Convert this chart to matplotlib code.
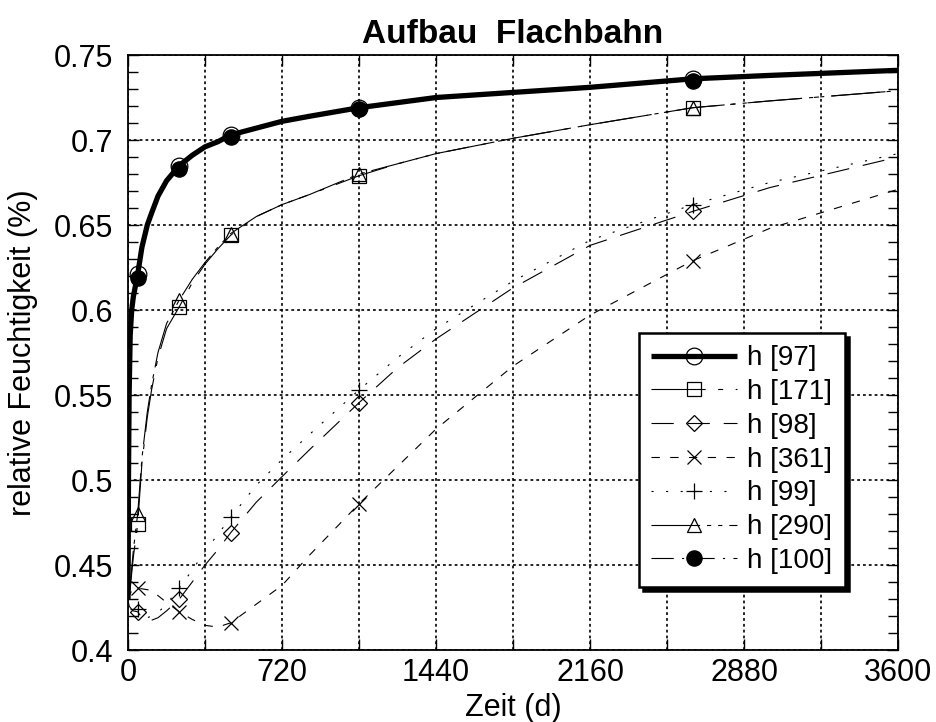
import matplotlib
matplotlib.use('Agg')
import matplotlib.pyplot as plt
from matplotlib.ticker import MultipleLocator, FuncFormatter

plt.rcParams['font.family'] = ['Liberation Sans', 'DejaVu Sans']
plt.rcParams['lines.scale_dashes'] = False

# time grid (days) and relative humidity per series
T = [0, 2, 5, 10, 17, 25, 45, 65, 90, 110, 140, 180, 240, 300, 360, 420, 480,
     600, 720, 850, 1080, 1260, 1440, 1800, 2160, 2640, 3000, 3600]
MARK_T = [45, 240, 480, 1080, 2640]

h97 = [0.430, 0.500, 0.550, 0.585, 0.600, 0.608, 0.621, 0.637, 0.650, 0.657,
       0.667, 0.676, 0.685, 0.691, 0.696, 0.699, 0.703, 0.707, 0.711, 0.714,
       0.719, 0.722, 0.725, 0.728, 0.731, 0.736, 0.738, 0.741]
h100 = [0.430, 0.500, 0.550, 0.585, 0.600, 0.608, 0.619, 0.637, 0.650, 0.657,
        0.667, 0.676, 0.683, 0.691, 0.696, 0.699, 0.702, 0.707, 0.711, 0.714,
        0.718, 0.722, 0.725, 0.728, 0.731, 0.735, 0.738, 0.741]
h171 = [0.430, 0.431, 0.432, 0.436, 0.445, 0.455, 0.474, 0.510, 0.537, 0.553,
        0.572, 0.589, 0.602, 0.616, 0.627, 0.636, 0.644, 0.655, 0.662, 0.668,
        0.679, 0.686, 0.692, 0.701, 0.709, 0.719, 0.723, 0.729]
h290 = [0.430, 0.431, 0.433, 0.438, 0.448, 0.459, 0.480, 0.513, 0.540, 0.556,
        0.575, 0.592, 0.606, 0.618, 0.628, 0.637, 0.645, 0.655, 0.662, 0.668,
        0.680, 0.686, 0.692, 0.701, 0.709, 0.719, 0.723, 0.729]
h98 = [0.430, 0.428, 0.426, 0.425, 0.424, 0.423, 0.4225, 0.419, 0.417, 0.4175,
       0.419, 0.423, 0.430, 0.440, 0.450, 0.459, 0.469, 0.487, 0.502, 0.518,
       0.5455, 0.566, 0.583, 0.613, 0.638, 0.658, 0.672, 0.690]
h99 = [0.430, 0.429, 0.428, 0.427, 0.426, 0.425, 0.424, 0.420, 0.419, 0.420,
       0.422, 0.427, 0.4365, 0.447, 0.458, 0.468, 0.478, 0.497, 0.512, 0.527,
       0.553, 0.572, 0.589, 0.617, 0.641, 0.662, 0.675, 0.692]
h361 = [0.430, 0.431, 0.432, 0.433, 0.435, 0.436, 0.4365, 0.436, 0.4355, 0.435,
        0.432, 0.428, 0.4225, 0.418, 0.4145, 0.4135, 0.416, 0.427, 0.438, 0.456,
        0.486, 0.508, 0.530, 0.567, 0.597, 0.629, 0.648, 0.671]

X_TICKS = [0, 720, 1440, 2160, 2880, 3600]

fig = plt.figure(figsize=(9.36, 7.22), dpi=100)
ax = fig.add_axes([0.1368, 0.0997, 0.8226, 0.8241])

marks = [T.index(t) for t in MARK_T]
thin = 0.8
ms = 10
series = [  # (values, label, lw, dashes, marker, face, size)
    (h97, 'h [97]', 3.8, None, 'o', 'none', 12),
    (h171, 'h [171]', thin, (39, 9, 3.6, 9), 's', 'none', ms),
    (h98, 'h [98]', thin, (16, 10), 'D', 'none', 8),
    (h361, 'h [361]', thin, (6, 7.5), 'x', 'k', ms),
    (h99, 'h [99]', thin, (1.5, 9), '+', 'k', 12),
    (h290, 'h [290]', thin, (35, 5, 3, 5, 3, 5), '^', 'none', ms),
    (h100, 'h [100]', thin, (16, 6, 1.5, 6), 'o', 'k', 11),
]
for vals, label, lw, dashes, mk, face, size in series:
    kw = {} if dashes is None else {'dashes': dashes}
    ax.plot(T, vals, color='k', linewidth=lw, marker=mk, markevery=marks,
            markersize=size, markerfacecolor=face, markeredgecolor='k',
            markeredgewidth=0.9, label=label, solid_capstyle='butt', **kw)

ax.set_xlim(0, 3600)
ax.set_ylim(0.4, 0.75)
ax.xaxis.set_major_locator(MultipleLocator(360))
ax.xaxis.set_major_formatter(FuncFormatter(
    lambda v, p: f'{v:.0f}' if round(v) in X_TICKS else ''))
ax.yaxis.set_major_locator(MultipleLocator(0.05))
ax.yaxis.set_minor_locator(MultipleLocator(0.01))
ax.yaxis.set_major_formatter(FuncFormatter(lambda v, p: f'{v:g}'))
ax.tick_params(which='both', direction='in', top=True, right=True,
               labelsize=22, color='k', width=1.0)
ax.tick_params(axis='y', pad=11)
ax.tick_params(axis='x', pad=6)
ax.tick_params(which='major', length=8)
ax.tick_params(which='minor', length=7)
ax.grid(True, which='major', color='k', linestyle=(0, (2, 2.2)), linewidth=1.2)
for s in ax.spines.values():
    s.set_linewidth(1.3)

ax.set_xlabel('Zeit (d)', fontsize=22, labelpad=3)
ax.set_ylabel('relative Feuchtigkeit (%)', fontsize=22, labelpad=11)
ax.set_title('Aufbau  Flachbahn', fontsize=24, fontweight='bold', pad=9)

leg = ax.legend(loc='upper right', bbox_to_anchor=(0.931, 0.533), fontsize=20,
                numpoints=1, handlelength=3.1, handletextpad=0.36,
                labelspacing=0.28, borderpad=0.45, borderaxespad=0,
                fancybox=False, framealpha=1, edgecolor='k',
                shadow={'ox': 3, 'oy': -3, 'color': 'k', 'alpha': 1})
leg.get_frame().set_linewidth(1.8)

fig.savefig('out.png', dpi=100)
